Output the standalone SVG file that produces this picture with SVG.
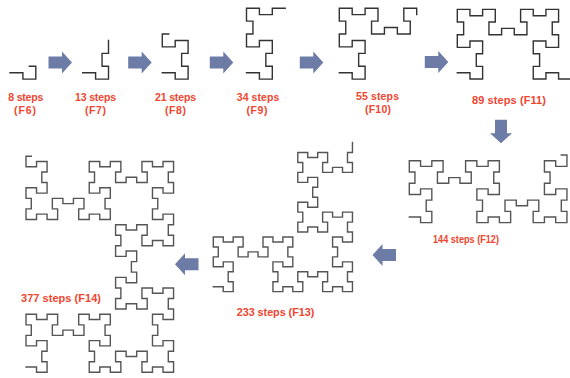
<svg xmlns="http://www.w3.org/2000/svg" xmlns:xlink="http://www.w3.org/1999/xlink" width="570" height="378" viewBox="0 0 570 378">
<style>
.c{fill:none;stroke:#333;stroke-width:1.4;stroke-linejoin:miter;stroke-linecap:square;vector-effect:non-scaling-stroke}
.c2{stroke:#555}
.lbl{font-family:"Liberation Sans",Arial,sans-serif;font-weight:bold;fill:#f0452f;text-anchor:middle}
.arr{fill:#6c7ca6}
</style>
<defs>
<path id="ar" d="M-23.5,-6 H-10 V-11 L0,0 L-10,11 V6 H-23.5 Z"/>
</defs>
<rect width="570" height="378" fill="#fff"/>
<g id="f6">
<path class="c" transform="translate(10,72.7) scale(6.45)" d="M0,0 h2 v1 h2 v-2 h-1"/>
<text class="lbl" x="25.8" y="101" font-size="10.5" textLength="35">8 steps</text>
<text class="lbl" x="25" y="114" font-size="10.5" textLength="22">(F6)</text>
</g>
<g id="f7">
<path class="c" transform="translate(82.7,72.7) scale(6.45)" d="M0,0 h2 v1 h2 v-2 h-1 v-2 h1 v-2"/>
<text class="lbl" x="95.5" y="101" font-size="10.5" textLength="41">13 steps</text>
<text class="lbl" x="95.5" y="114" font-size="10.5" textLength="21">(F7)</text>
</g>
<g id="f8">
<path class="c" transform="translate(162.3,72.7) scale(6.45)" d="M0,0 h2 v1 h2 v-2 h-1 v-2 h1 v-2 h-2 v1 h-2 v-2 h1"/>
<text class="lbl" x="175.5" y="101" font-size="10.5" textLength="41">21 steps</text>
<text class="lbl" x="175.5" y="114" font-size="10.5" textLength="21">(F8)</text>
</g>
<g id="f9">
<path class="c" transform="translate(246.5,72.7) scale(6.45)" d="M0,0 h2 v1 h2 v-2 h-1 v-2 h1 v-2 h-2 v1 h-2 v-2 h1 v-2 h-1 v-2 h2 v1 h2 v-1 h2"/>
<text class="lbl" x="258" y="101" font-size="10.5" textLength="42.5">34 steps</text>
<text class="lbl" x="257" y="114" font-size="10.5" textLength="21">(F9)</text>
</g>
<g id="f10">
<path class="c" transform="translate(339.3,72.7) scale(6.45)" d="M0,0 h2 v1 h2 v-2 h-1 v-2 h1 v-2 h-2 v1 h-2 v-2 h1 v-2 h-1 v-2 h2 v1 h2 v-1 h2 v2 h-1 v2 h2 v-1 h2 v1 h2 v-2 h-1 v-2 h2 v1"/>
<text class="lbl" x="377.5" y="99.5" font-size="10.5" textLength="43">55 steps</text>
<text class="lbl" x="378" y="112.5" font-size="10.5" textLength="26">(F10)</text>
</g>
<g id="f11">
<path class="c" transform="translate(457.3,72.7) scale(6.33)" d="M0,0 h2 v1 h2 v-2 h-1 v-2 h1 v-2 h-2 v1 h-2 v-2 h1 v-2 h-1 v-2 h2 v1 h2 v-1 h2 v2 h-1 v2 h2 v-1 h2 v1 h2 v-2 h-1 v-2 h2 v1 h2 v-1 h2 v2 h-1 v2 h1 v2 h-2 v-1 h-2 v2 h1 v2 h-1 v2 h2 v-1 h2 v1 h2"/>
<text class="lbl" x="509" y="103.5" font-size="11" textLength="74">89 steps (F11)</text>
</g>
<g id="f12">
<path class="c c2" transform="translate(409.3,217) scale(5.63)" d="M0,0 h2 v1 h2 v-2 h-1 v-2 h1 v-2 h-2 v1 h-2 v-2 h1 v-2 h-1 v-2 h2 v1 h2 v-1 h2 v2 h-1 v2 h2 v-1 h2 v1 h2 v-2 h-1 v-2 h2 v1 h2 v-1 h2 v2 h-1 v2 h1 v2 h-2 v-1 h-2 v2 h1 v2 h-1 v2 h2 v-1 h2 v1 h2 v-2 h-1 v-2 h2 v1 h2 v-1 h2 v2 h-1 v2 h2 v-1 h2 v1 h2 v-2 h-1 v-2 h1 v-2 h-2 v1 h-2 v-2 h1 v-2 h-1 v-2 h2 v1 h2 v-2 h-1"/>
<text class="lbl" x="466" y="243.2" font-size="10.4" textLength="66" lengthAdjust="spacingAndGlyphs">144 steps (F12)</text>
</g>
<g id="f13">
<path class="c c2" transform="translate(213.3,286.7) scale(4.97)" d="M0,0 h2 v1 h2 v-2 h-1 v-2 h1 v-2 h-2 v1 h-2 v-2 h1 v-2 h-1 v-2 h2 v1 h2 v-1 h2 v2 h-1 v2 h2 v-1 h2 v1 h2 v-2 h-1 v-2 h2 v1 h2 v-1 h2 v2 h-1 v2 h1 v2 h-2 v-1 h-2 v2 h1 v2 h-1 v2 h2 v-1 h2 v1 h2 v-2 h-1 v-2 h2 v1 h2 v-1 h2 v2 h-1 v2 h2 v-1 h2 v1 h2 v-2 h-1 v-2 h1 v-2 h-2 v1 h-2 v-2 h1 v-2 h-1 v-2 h2 v1 h2 v-2 h-1 v-2 h1 v-2 h-2 v1 h-2 v-1 h-2 v2 h1 v2 h-2 v-1 h-2 v1 h-2 v-2 h1 v-2 h-1 v-2 h2 v1 h2 v-2 h-1 v-2 h1 v-2 h-2 v1 h-2 v-2 h1 v-2 h-1 v-2 h2 v1 h2 v-1 h2 v2 h-1 v2 h2 v-1 h2 v1 h2 v-2 h-1 v-2 h1 v-2"/>
<text class="lbl" x="275.5" y="316" font-size="10.8" textLength="77.5">233 steps (F13)</text>
</g>
<g id="f14">
<path class="c c2" transform="translate(26,367) scale(5.27)" d="M0,0 h2 v1 h2 v-2 h-1 v-2 h1 v-2 h-2 v1 h-2 v-2 h1 v-2 h-1 v-2 h2 v1 h2 v-1 h2 v2 h-1 v2 h2 v-1 h2 v1 h2 v-2 h-1 v-2 h2 v1 h2 v-1 h2 v2 h-1 v2 h1 v2 h-2 v-1 h-2 v2 h1 v2 h-1 v2 h2 v-1 h2 v1 h2 v-2 h-1 v-2 h2 v1 h2 v-1 h2 v2 h-1 v2 h2 v-1 h2 v1 h2 v-2 h-1 v-2 h1 v-2 h-2 v1 h-2 v-2 h1 v-2 h-1 v-2 h2 v1 h2 v-2 h-1 v-2 h1 v-2 h-2 v1 h-2 v-1 h-2 v2 h1 v2 h-2 v-1 h-2 v1 h-2 v-2 h1 v-2 h-1 v-2 h2 v1 h2 v-2 h-1 v-2 h1 v-2 h-2 v1 h-2 v-2 h1 v-2 h-1 v-2 h2 v1 h2 v-1 h2 v2 h-1 v2 h2 v-1 h2 v1 h2 v-2 h-1 v-2 h1 v-2 h-2 v1 h-2 v-2 h1 v-2 h-1 v-2 h2 v1 h2 v-2 h-1 v-2 h1 v-2 h-2 v1 h-2 v-1 h-2 v2 h1 v2 h-2 v-1 h-2 v1 h-2 v-2 h1 v-2 h-2 v1 h-2 v-1 h-2 v2 h1 v2 h-1 v2 h2 v-1 h2 v2 h-1 v2 h1 v2 h-2 v-1 h-2 v1 h-2 v-2 h1 v-2 h-2 v1 h-2 v-1 h-2 v2 h1 v2 h-2 v-1 h-2 v1 h-2 v-2 h1 v-2 h-1 v-2 h2 v1 h2 v-2 h-1 v-2 h1 v-2 h-2 v1 h-2 v-2 h1"/>
<text class="lbl" x="61" y="301.5" font-size="11" textLength="80">377 steps (F14)</text>
</g>
<g id="connectors">
<use xlink:href="#ar" class="arr" transform="translate(72,62.5)"/>
<use xlink:href="#ar" class="arr" transform="translate(151.7,62.5)"/>
<use xlink:href="#ar" class="arr" transform="translate(233.3,62.5)"/>
<use xlink:href="#ar" class="arr" transform="translate(323.3,62.5)"/>
<use xlink:href="#ar" class="arr" transform="translate(448.3,62)"/>
<use xlink:href="#ar" class="arr" transform="translate(501,143.3) rotate(90)"/>
<use xlink:href="#ar" class="arr" transform="translate(372.5,255) rotate(180)"/>
<use xlink:href="#ar" class="arr" transform="translate(175,264.3) rotate(180)"/>
</g>
</svg>
